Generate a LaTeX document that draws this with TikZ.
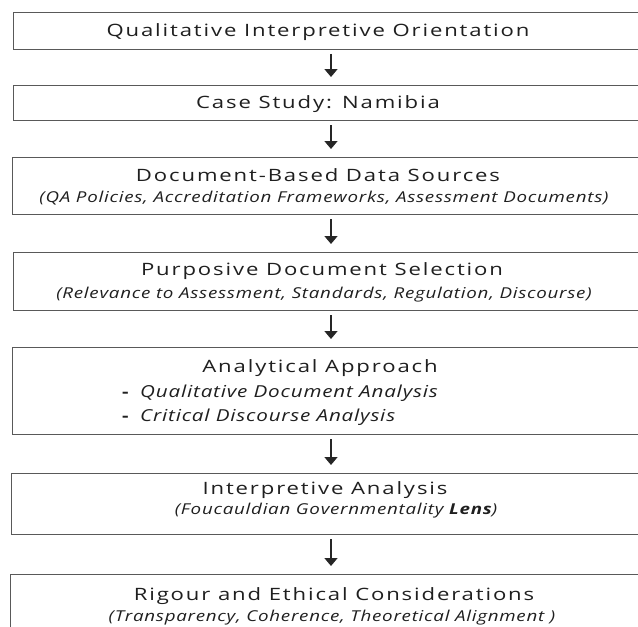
\documentclass[tikz,border=0pt]{standalone}
\usepackage{fontspec}
\setmainfont{Open Sans}
\newfontfamily\ttlfont{Open Sans}[LetterSpace=11, FakeStretch=1.3]
\newfontfamily\subfont{Open Sans}[LetterSpace=5, FakeStretch=1.25]
\usetikzlibrary{arrows.meta}
\tikzset{
  box/.style={draw=black!65, line width=1.4pt, minimum width=700pt, anchor=north west, inner sep=0pt, fill=white},
  ttl/.style={font=\ttlfont\fontsize{17}{20}\selectfont, text=black!88, inner sep=0pt, anchor=base},
  sub/.style={font=\subfont\fontsize{15}{18}\selectfont\itshape, text=black!88, inner sep=0pt, anchor=base},
  itm/.style={font=\subfont\fontsize{16.5}{19}\selectfont\itshape, text=black!88, inner sep=0pt, anchor=base west},
  dsh/.style={font=\subfont\fontsize{16}{19}\selectfont\bfseries, text=black!88, inner sep=0pt, anchor=base west},
  arr/.style={line width=1.6pt, draw=black!85, -{Triangle[width=13pt,length=8pt]}},
}
\begin{document}
\begin{tikzpicture}[x=1pt,y=-1pt]
\clip (0,0) rectangle (638,627);
\fill[white] (0,0) rectangle (638,627);
\coordinate (ax) at (331,0);
% boxes
\node[box, minimum height=36.5pt] (b1) at (13,12) {};
\node[box, minimum height=35pt] (b2) at (13,85) {};
\node[box, minimum height=57pt] (b3) at (12,157) {};
\node[box, minimum height=58pt] (b4) at (13,252) {};
\node[box, minimum height=87pt] (b5) at (12,347) {};
\node[box, minimum height=61pt] (b6) at (11,473) {};
\node[box, minimum height=100pt] (b7) at (10,574) {};
% texts
\node[ttl] (t1) at (318,36) {Qualitative Interpretive Orientation};
\node[ttl] (t2) at (318,108) {Case Study: Namibia};
\node[ttl] (t3) at (318,181) {Document-Based Data Sources};
\node[sub] (s3) at (324,202) {(QA Policies, Accreditation Frameworks, Assessment Documents)};
\node[ttl] (t4) at (322,275) {Purposive Document Selection};
\node[sub] (s4) at (324,298) {(Relevance to Assessment, Standards, Regulation, Discourse)};
\node[ttl] (t5) at (320,372) {Analytical Approach};
\node[dsh] (d1) at (122,397) {-};
\node[itm] (i1) at (140,397) {Qualitative Document Analysis};
\node[dsh] (d2) at (122,421) {-};
\node[itm] (i2) at (140,421) {Critical Discourse Analysis};
\node[ttl] (t6) at (325,494) {Interpretive Analysis};
\node[sub] (s6) at (336,514) {(Foucauldian Governmentality \textbf{Lens})};
\node[ttl] (t7) at (334,600) {Rigour and Ethical Considerations};
\node[sub] (s7) at (332,621) {(Transparency, Coherence, Theoretical Alignment~)};
% arrows
\draw[arr] ([yshift=-4pt]b1.south -| ax) -- ([yshift=8pt]b2.north -| ax);
\draw[arr] ([yshift=-4pt]b2.south -| ax) -- ([yshift=8pt]b3.north -| ax);
\draw[arr] ([yshift=-4pt]b3.south -| ax) -- ([yshift=8pt]b4.north -| ax);
\draw[arr] ([yshift=-4pt]b4.south -| ax) -- ([yshift=8pt]b5.north -| ax);
\draw[arr] ([yshift=-4pt]b5.south -| ax) -- ([yshift=8pt]b6.north -| ax);
\draw[arr] ([yshift=-4pt]b6.south -| ax) -- ([yshift=8pt]b7.north -| ax);
\end{tikzpicture}
\end{document}
